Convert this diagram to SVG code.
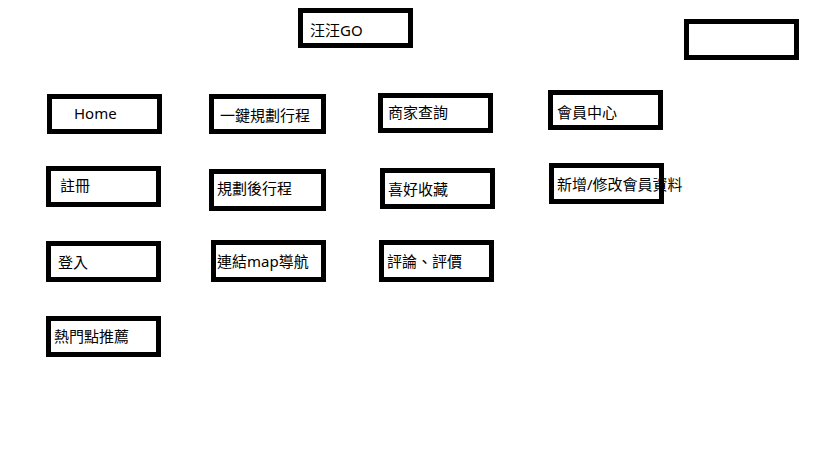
<svg xmlns="http://www.w3.org/2000/svg" width="819" height="460" viewBox="0 0 819 460">
  <style>
    .box { fill: #ffffff; stroke: #000000; stroke-width: 5; }
    .label { font-family: "Noto Sans", "Noto Sans CJK TC", sans-serif; font-size: 15px; fill: #000000; }
  </style>
  <rect x="0" y="0" width="819" height="460" fill="#ffffff"/>

  <g id="title">
    <rect class="box" x="300.5" y="10.5" width="110" height="35"/>
    <text class="label" x="310" y="36">汪汪GO</text>
  </g>
  <g id="blank">
    <rect class="box" x="686.5" y="21.5" width="110" height="36"/>
  </g>

  <g id="home">
    <rect class="box" x="49.5" y="96.5" width="110" height="35"/>
    <text class="label" x="74" y="119">Home</text>
  </g>
  <g id="one-click-plan">
    <rect class="box" x="211.5" y="96.5" width="112" height="35"/>
    <text class="label" x="220" y="121">一鍵規劃行程</text>
  </g>
  <g id="shop-search">
    <rect class="box" x="380.5" y="95.5" width="110" height="35"/>
    <text class="label" x="388" y="118">商家查詢</text>
  </g>
  <g id="member-center">
    <rect class="box" x="550.5" y="92.5" width="110" height="35"/>
    <text class="label" x="557" y="118">會員中心</text>
  </g>

  <g id="register">
    <rect class="box" x="48.5" y="168.5" width="110" height="36"/>
    <text class="label" x="60" y="191">註冊</text>
  </g>
  <g id="planned-trip">
    <rect class="box" x="211.5" y="171.5" width="112" height="37"/>
    <text class="label" x="217" y="194">規劃後行程</text>
  </g>
  <g id="favorites">
    <rect class="box" x="382.5" y="170.5" width="110" height="36"/>
    <text class="label" x="388" y="195">喜好收藏</text>
  </g>
  <g id="edit-member">
    <rect class="box" x="551.5" y="165.5" width="110" height="36"/>
    <text class="label" x="557" y="190">新增/修改會員資料</text>
  </g>

  <g id="login">
    <rect class="box" x="48.5" y="243.5" width="110" height="36"/>
    <text class="label" x="58" y="268">登入</text>
  </g>
  <g id="map-nav">
    <rect class="box" x="213.5" y="242.5" width="110" height="37"/>
    <text class="label" x="217" y="267">連結map導航</text>
  </g>
  <g id="reviews">
    <rect class="box" x="381.5" y="242.5" width="110" height="37"/>
    <text class="label" x="387" y="267">評論、評價</text>
  </g>

  <g id="hot-spots">
    <rect class="box" x="48.5" y="318.5" width="110" height="36"/>
    <text class="label" x="54" y="342">熱門點推薦</text>
  </g>

  <g id="connectors"></g>
</svg>
